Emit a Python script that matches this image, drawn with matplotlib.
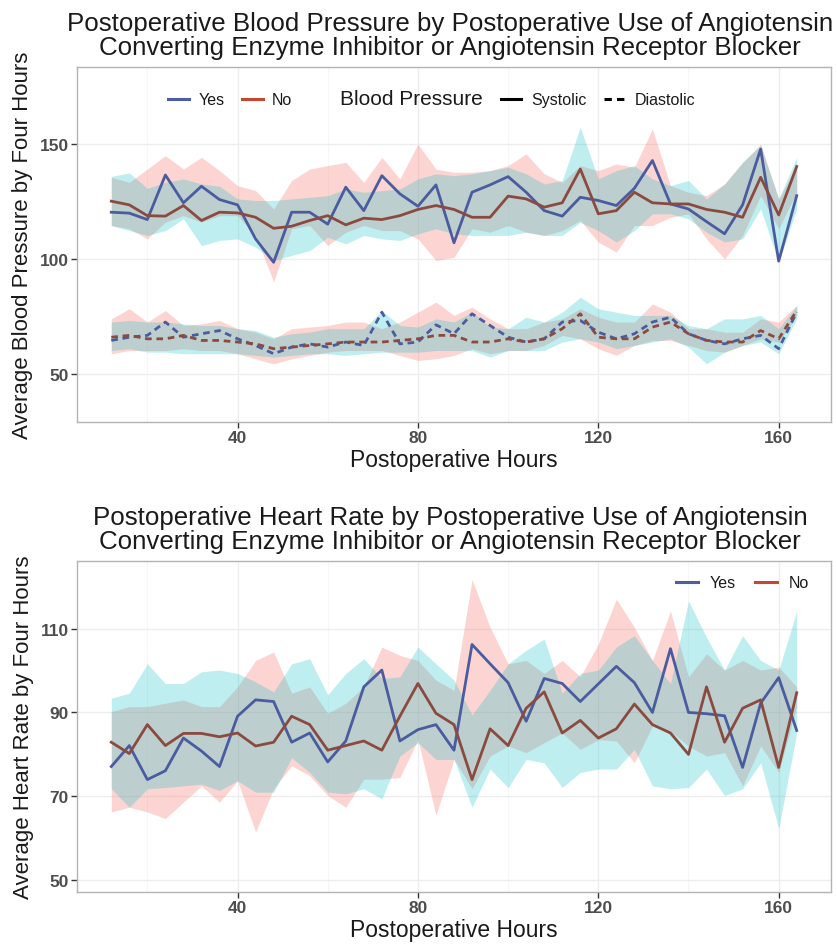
import numpy as np
import matplotlib
matplotlib.use("Agg")
import matplotlib.pyplot as plt
from matplotlib.lines import Line2D
from matplotlib import font_manager

# ---------------- data ----------------
hours = [12, 16, 20, 24, 28, 32, 36, 40, 44, 48, 52, 56, 60, 64, 68, 72, 76, 80, 84, 88,
         92, 96, 100, 104, 108, 112, 116, 120, 124, 128, 132, 136, 140, 144, 148, 152, 156, 160, 164]

# Systolic BP
sys_yes = [120.3, 119.9, 117.1, 136.5, 124.4, 131.6, 125.8, 123.5, 108.7, 98.5, 120.3, 120.3, 115.1, 131.2,
           121.0, 136.2, 128.3, 122.9, 132.2, 107.0, 129.0, 132.2, 135.8, 129.0, 121.0, 118.6, 126.8, 125.4,
           123.2, 130.7, 142.8, 123.9, 121.7, 116.2, 110.9, 123.5, 147.8, 99.0, 127.5]
sys_no = [125.1, 123.5, 118.8, 118.6, 123.2, 116.7, 120.3, 120.0, 118.1, 113.3, 114.2, 116.7, 118.8, 114.8,
          117.7, 117.1, 118.8, 121.5, 123.2, 121.5, 118.1, 118.1, 127.3, 126.1, 122.5, 124.4, 139.1, 119.6,
          121.0, 129.0, 124.4, 123.9, 123.9, 121.5, 120.3, 118.1, 135.5, 119.1, 140.2]
sys_yes_hi = [135.9, 137.4, 130.7, 133.3, 134.8, 132.6, 131.6, 126.1, 125.4, 125.4, 126.1, 126.8, 127.5, 130.4,
              129.0, 129.7, 130.4, 134.8, 137.0, 136.2, 137.0, 138.4, 139.9, 137.0, 132.6, 134.1, 157.3, 134.8,
              138.4, 140.6, 134.8, 131.9, 134.1, 126.1, 132.6, 142.0, 149.3, 126.1, 144.2]
sys_yes_lo = [114.5, 112.3, 110.2, 112.3, 117.4, 105.8, 108.0, 108.7, 105.1, 99.3, 101.5, 103.6, 109.4, 106.5,
              110.2, 108.7, 108.0, 110.9, 113.1, 110.9, 110.2, 110.2, 110.2, 111.6, 110.2, 110.2, 115.9, 112.3,
              107.3, 112.3, 119.6, 119.6, 117.4, 111.6, 107.3, 108.7, 121.7, 98.6, 121.7]
sys_no_hi = [135.5, 133.3, 139.1, 144.9, 139.1, 144.2, 138.4, 131.9, 129.7, 121.7, 134.1, 139.1, 140.6, 142.0,
             133.3, 144.2, 134.8, 150.0, 139.1, 137.7, 137.7, 138.4, 140.6, 145.7, 137.0, 133.3, 140.6, 138.4,
             141.3, 139.9, 156.5, 131.9, 129.0, 127.5, 132.6, 142.0, 150.0, 126.1, 140.6]
sys_no_lo = [114.5, 113.1, 108.7, 116.0, 118.8, 116.0, 118.8, 118.8, 110.2, 89.9, 113.1, 114.5, 105.8, 111.6,
             114.5, 112.3, 112.3, 108.7, 99.3, 100.7, 113.1, 111.6, 114.5, 111.6, 110.2, 112.3, 116.7, 107.3,
             102.9, 114.5, 114.5, 118.1, 119.6, 108.7, 100.0, 110.2, 127.5, 113.1, 129.0]

# Diastolic BP
dia_yes = [64.5, 65.9, 66.7, 72.5, 65.9, 67.4, 68.8, 65.2, 62.3, 58.7, 61.6, 63.0, 61.6, 63.8, 62.3, 76.8,
           63.0, 63.8, 71.3, 67.4, 76.1, 71.0, 65.9, 63.8, 65.2, 72.5, 73.2, 68.1, 65.2, 67.4, 72.5, 74.6,
           67.4, 64.5, 63.0, 65.2, 66.7, 60.9, 76.8]
dia_no = [65.9, 66.7, 65.2, 65.2, 66.7, 64.5, 64.5, 63.8, 63.0, 60.9, 61.6, 62.3, 63.0, 63.8, 63.8, 63.8,
          64.5, 65.2, 66.7, 66.7, 63.8, 63.8, 65.2, 63.8, 65.2, 69.6, 76.1, 65.9, 65.2, 65.2, 70.3, 72.5,
          67.4, 64.5, 63.8, 63.8, 68.8, 65.2, 77.5]
dia_yes_hi = [72.5, 73.2, 72.5, 72.5, 71.7, 71.0, 71.0, 69.6, 68.8, 65.9, 67.4, 68.1, 69.6, 69.6, 69.6, 77.5,
              71.0, 70.3, 73.9, 72.5, 76.8, 70.3, 69.6, 74.6, 72.5, 76.8, 83.3, 78.3, 76.8, 75.4, 75.4, 75.4,
              71.0, 69.6, 73.9, 73.9, 75.4, 69.6, 79.7]
dia_yes_lo = [60.1, 60.9, 59.4, 59.4, 58.7, 58.7, 58.7, 58.7, 58.0, 57.2, 58.0, 58.7, 58.7, 58.0, 58.7, 59.4,
              59.4, 59.4, 60.1, 60.1, 60.1, 57.2, 60.1, 60.1, 60.1, 63.8, 65.2, 63.8, 60.9, 62.3, 63.8, 65.2,
              61.6, 54.3, 59.4, 62.3, 63.8, 58.7, 73.9]
dia_no_hi = [73.9, 78.3, 72.5, 77.5, 71.0, 71.7, 73.2, 69.6, 68.1, 65.2, 69.6, 70.3, 71.0, 72.5, 72.5, 69.6,
             72.5, 76.8, 81.2, 75.4, 79.0, 73.9, 69.6, 69.6, 72.5, 73.9, 78.3, 74.6, 72.5, 72.5, 80.4, 76.8,
             69.6, 69.6, 68.1, 68.1, 73.9, 72.5, 79.7]
dia_no_lo = [58.7, 60.1, 60.1, 60.1, 60.9, 60.1, 60.1, 58.7, 56.5, 54.3, 56.5, 58.0, 59.4, 60.1, 60.1, 60.1,
             58.0, 55.8, 56.5, 58.0, 60.9, 58.7, 60.1, 60.1, 62.3, 66.7, 65.2, 60.9, 58.0, 62.3, 64.5, 64.5,
             62.3, 60.1, 59.4, 62.3, 65.2, 63.8, 75.4]

# Heart rate
hr_yes = [77.1, 82.1, 74.0, 76.1, 83.9, 80.8, 77.1, 89.1, 93.0, 92.6, 82.9, 85.1, 78.2, 83.2, 96.1, 100.1,
          83.2, 85.9, 87.1, 81.0, 106.2, 101.6, 97.1, 87.9, 98.1, 96.9, 92.6, 96.8, 101.0, 97.1, 90.0, 105.2,
          90.0, 89.7, 89.2, 76.9, 92.2, 98.3, 85.7]
hr_no = [82.9, 80.2, 87.1, 82.1, 85.0, 85.0, 84.2, 85.1, 82.0, 82.9, 89.1, 87.1, 81.0, 82.1, 83.2, 81.0,
         89.1, 96.9, 89.8, 87.1, 74.0, 86.1, 82.1, 91.0, 94.9, 85.1, 88.1, 83.9, 86.1, 92.0, 87.1, 85.1,
         80.0, 96.1, 82.9, 91.0, 93.0, 76.9, 94.7]
hr_yes_hi = [93.4, 94.6, 101.6, 96.9, 96.9, 99.7, 100.1, 99.3, 97.3, 94.9, 101.6, 102.8, 94.2, 99.3, 102.8,
             98.1, 98.5, 105.6, 101.6, 97.7, 89.4, 95.3, 101.6, 104.8, 107.5, 94.6, 99.3, 100.1, 105.6, 108.3,
             102.4, 96.9, 116.6, 107.9, 100.1, 108.3, 102.4, 100.1, 114.2]
hr_yes_lo = [71.8, 67.4, 71.8, 72.1, 72.5, 72.9, 71.4, 73.7, 71.0, 71.0, 79.2, 75.7, 71.0, 70.6, 71.8, 69.4,
             79.6, 82.8, 78.8, 78.8, 67.4, 76.5, 72.1, 78.8, 78.0, 72.1, 75.7, 76.5, 76.5, 81.2, 72.5, 71.8,
             72.1, 76.5, 70.2, 71.8, 78.0, 62.3, 85.1]
hr_no_hi = [90.2, 91.4, 91.4, 92.2, 93.0, 91.4, 91.4, 96.1, 102.4, 104.4, 94.6, 96.1, 89.8, 92.2, 96.1, 105.6,
            103.6, 102.4, 97.7, 95.3, 121.7, 110.3, 101.6, 102.4, 99.3, 102.4, 98.5, 106.3, 117.0, 110.3,
            102.4, 114.2, 98.5, 104.0, 100.1, 102.4, 100.1, 100.8, 96.1]
hr_no_lo = [66.3, 67.4, 66.3, 64.7, 68.6, 72.5, 68.6, 73.7, 61.5, 71.8, 77.3, 74.9, 70.2, 67.4, 74.1, 74.1,
            74.5, 83.5, 65.5, 78.8, 71.8, 79.6, 82.0, 80.4, 82.8, 85.1, 81.2, 83.5, 83.2, 78.0, 86.7, 85.5,
            82.0, 79.6, 80.4, 72.5, 82.0, 75.7, 91.4]

groups = ["Yes", "No"]
x_ticks = [40, 80, 120, 160]
bp_ticks = [50, 100, 150]
hr_ticks = [50, 70, 90, 110]

# ---------------- style ----------------
names = {f.name for f in font_manager.fontManager.ttflist}
FONT = "Liberation Sans" if "Liberation Sans" in names else "DejaVu Sans"
plt.rcParams["font.family"] = [FONT, "DejaVu Sans"]

C_YES = "#4A5C9F"
C_NO = "#8B4A40"
C_YES_LEG = "#4D5CA8"
C_NO_LEG = "#C4472F"
F_YES = "#00BFC4"
F_NO = "#F8766D"
A_YES = 0.25
A_NO = 0.30
TXT = "#1A1A1A"
TICK = "#4D4D4D"
DASH = (0, (2.4, 1.7))

fig = plt.figure(figsize=(8.38, 9.45), dpi=100)
ax1 = fig.add_axes([77 / 838, 1 - 423 / 945, (831 - 77) / 838, (423 - 68) / 945])
ax2 = fig.add_axes([77 / 838, 1 - 893 / 945, (831 - 77) / 838, (893 - 562) / 945])
TITLE_X = (450 - 77) / (831 - 77)


def style_axes(ax, yticks, ylim):
    ax.set_xlim(4.4, 171.6)
    ax.set_ylim(*ylim)
    ax.set_xticks(x_ticks)
    ax.set_yticks(yticks)
    ax.set_xticks([20, 60, 100, 140], minor=True)
    ax.tick_params(which="minor", length=0)
    ax.grid(True, which="major", color="#EDEDED", linewidth=1.0)
    ax.grid(True, which="minor", color="#F6F6F6", linewidth=0.8)
    ax.set_axisbelow(True)
    for s in ax.spines.values():
        s.set_color("#B3B3B3")
        s.set_linewidth(1.0)
    ax.tick_params(which="major", length=4, width=1.0, color="#333333",
                   labelsize=12.5, labelcolor=TICK, pad=2)
    for lab in ax.get_xticklabels() + ax.get_yticklabels():
        lab.set_fontweight("bold")
    ax.set_xlabel("Postoperative Hours", fontsize=16.5, color=TXT, labelpad=2)


def bands(ax, lo_no, hi_no, lo_yes, hi_yes):
    ax.fill_between(hours, lo_no, hi_no, color=F_NO, alpha=A_NO, linewidth=0)
    ax.fill_between(hours, lo_yes, hi_yes, color=F_YES, alpha=A_YES, linewidth=0)


# ---------------- top panel ----------------
bands(ax1, sys_no_lo, sys_no_hi, sys_yes_lo, sys_yes_hi)
bands(ax1, dia_no_lo, dia_no_hi, dia_yes_lo, dia_yes_hi)
ax1.plot(hours, sys_yes, color=C_YES, lw=2.0)
ax1.plot(hours, sys_no, color=C_NO, lw=2.0)
ax1.plot(hours, dia_yes, color=C_YES, lw=2.0, ls=DASH)
ax1.plot(hours, dia_no, color=C_NO, lw=2.0, ls=DASH)
style_axes(ax1, bp_ticks, (29, 183.5))
ax1.set_ylabel("Average Blood Pressure by Four Hours", fontsize=16, color=TXT, labelpad=5)
ax1.set_title("Postoperative Blood Pressure by Postoperative Use of Angiotensin\n"
              "Converting Enzyme Inhibitor or Angiotensin Receptor Blocker",
              fontsize=18.6, color=TXT, pad=9, linespacing=1.0, x=TITLE_X)

handles = [Line2D([], [], color=C_YES_LEG, lw=2.2),
           Line2D([], [], color=C_NO_LEG, lw=2.2),
           Line2D([], [], color="none", lw=0),
           Line2D([], [], color="black", lw=2.2),
           Line2D([], [], color="black", lw=2.2, ls=DASH)]
labels = ["Yes", "No", "Blood Pressure", "Systolic", "Diastolic"]
leg1 = ax1.legend(handles, labels, ncol=5, loc="center", bbox_to_anchor=(0.47, 0.91),
                  frameon=False, fontsize=11.5, handlelength=1.3, handletextpad=0.6,
                  columnspacing=1.1, borderpad=0.2)
leg1.get_texts()[2].set_fontsize(15)
for t in leg1.get_texts():
    t.set_color(TXT)

# ---------------- bottom panel ----------------
bands(ax2, hr_no_lo, hr_no_hi, hr_yes_lo, hr_yes_hi)
ax2.plot(hours, hr_yes, color=C_YES, lw=2.0)
ax2.plot(hours, hr_no, color=C_NO, lw=2.0)
style_axes(ax2, hr_ticks, (47.2, 126.1))
ax2.set_ylabel("Average Heart Rate by Four Hours", fontsize=16, color=TXT, labelpad=5)
ax2.set_title("Postoperative Heart Rate by Postoperative Use of Angiotensin\n"
              "Converting Enzyme Inhibitor or Angiotensin Receptor Blocker",
              fontsize=18.6, color=TXT, pad=9, linespacing=1.0, x=TITLE_X)
h2 = [Line2D([], [], color=C_YES_LEG, lw=2.2), Line2D([], [], color=C_NO_LEG, lw=2.2)]
leg2 = ax2.legend(h2, groups, ncol=2, loc="upper right", bbox_to_anchor=(0.985, 0.99),
                  frameon=False, fontsize=11.5, handlelength=1.4, handletextpad=0.7,
                  columnspacing=1.2, borderpad=0.2)
for t in leg2.get_texts():
    t.set_color(TXT)

fig.savefig("out.png", dpi=100)
